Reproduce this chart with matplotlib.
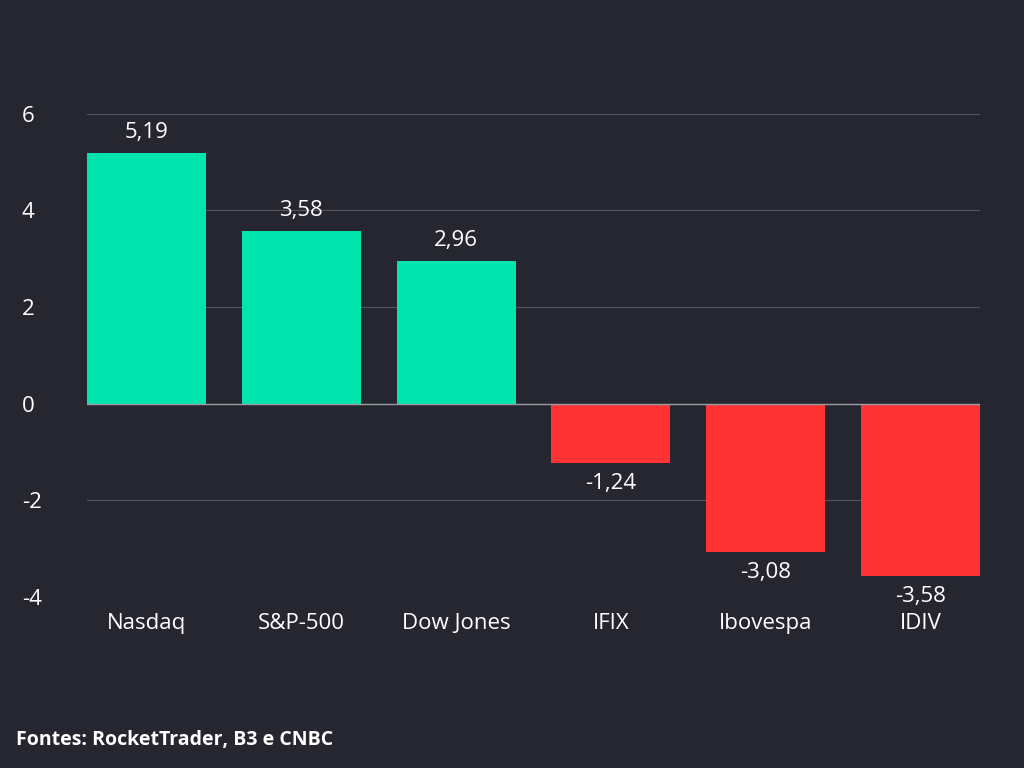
import matplotlib
matplotlib.use("Agg")
import matplotlib.pyplot as plt

plt.rcParams['font.family'] = ['Open Sans', 'DejaVu Sans']

names = ['Nasdaq', 'S&P-500', 'Dow Jones', 'IFIX', 'Ibovespa', 'IDIV']
values = [5.19, 3.58, 2.96, -1.24, -3.08, -3.58]
labels = ['5,19', '3,58', '2,96', '-1,24', '-3,08', '-3,58']

bg = '#262631'
green = '#00E5AD'
red = '#FF3333'

fig = plt.figure(figsize=(10.24, 7.68), dpi=100, facecolor=bg)
ax = fig.add_axes([0.085, 0.223, 0.872, 0.629], facecolor=bg)

x = range(len(values))
colors = [green if v >= 0 else red for v in values]
ax.bar(x, values, width=0.77, color=colors, zorder=3)

for i, v in enumerate(values):
    if v >= 0:
        ax.text(i, v + 0.2, labels[i], ha='center', va='bottom', color='white', fontsize=16)
    else:
        ax.text(i, v - 0.2, labels[i], ha='center', va='top', color='white', fontsize=16)

ax.set_xlim(-0.385, 5.385)
ax.set_ylim(-4, 6)
ax.set_yticks([-4, -2, 0, 2, 4, 6])
ax.set_yticklabels(['-4', '-2', '0', '2', '4', '6'])
ax.set_xticks(list(x))
ax.set_xticklabels(names)
ax.tick_params(colors='white', labelsize=16, length=0)
ax.tick_params(axis='y', pad=20)
ax.tick_params(axis='x', pad=12)
for lbl in ax.get_yticklabels():
    lbl.set_horizontalalignment('left')
ax.yaxis.set_tick_params(pad=47)
ax.grid(axis='y', color='#55555f', linewidth=0.8, zorder=0)
ax.axhline(0, color='#9a9aa2', linewidth=1, zorder=4)
for s in ax.spines.values():
    s.set_visible(False)

fig.text(0.016, 0.03, 'Fontes: RocketTrader, B3 e CNBC', color='white',
         fontsize=14, fontweight='bold')

fig.savefig('out.png', dpi=100, facecolor=bg)
